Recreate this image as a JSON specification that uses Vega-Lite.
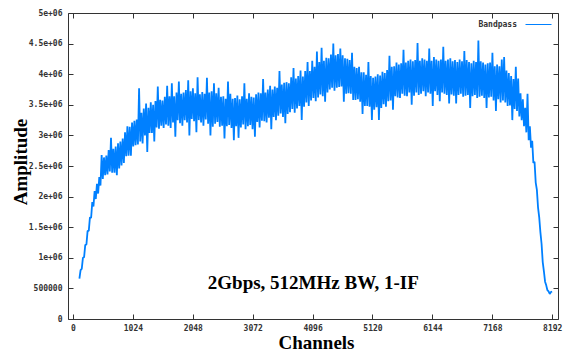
{
"$schema": "https://vega.github.io/schema/vega-lite/v6.json",
"width": 490, "height": 306,
"autosize": {"type": "none"},
"padding": {"left": 68, "top": 13, "right": 6, "bottom": 32},
"background": "white",
"config": {
 "view": {"stroke": "#333", "strokeWidth": 1},
 "axis": {"domain": false, "grid": false, "tickColor": "#333", "tickSize": -5, "tickWidth": 1,
  "labelFont": "DejaVu Sans Mono", "labelFontWeight": "bold", "labelFontSize": 8, "labelColor": "#333",
  "titleFont": "Liberation Serif", "titleFontWeight": "bold", "titleFontSize": 19, "titleColor": "#000"}
},
"resolve": {"axis": {"x": "independent", "y": "independent"}},
"layer": [
 {
  "data": {"values": [
{"ch":110,"amp":0.66},{"ch":130,"amp":0.80},{"ch":150,"amp":0.82},{"ch":170,"amp":1.00},{"ch":190,"amp":1.01},{"ch":210,"amp":1.21},{"ch":230,"amp":1.22},{"ch":250,"amp":1.44},{"ch":270,"amp":1.44},{"ch":290,"amp":1.66},{"ch":310,"amp":1.65},{"ch":330,"amp":1.91},{"ch":350,"amp":1.84},{"ch":370,"amp":2.09},{"ch":390,"amp":1.96},{"ch":410,"amp":2.21},{"ch":430,"amp":2.05},{"ch":450,"amp":2.32},{"ch":470,"amp":2.18},{"ch":490,"amp":2.68},
{"ch":510,"amp":2.29},{"ch":530,"amp":2.64},{"ch":550,"amp":2.35},{"ch":570,"amp":2.67},{"ch":590,"amp":2.36},{"ch":610,"amp":2.76},{"ch":630,"amp":2.41},{"ch":650,"amp":2.96},{"ch":670,"amp":2.39},{"ch":690,"amp":2.78},{"ch":710,"amp":2.39},{"ch":730,"amp":2.82},{"ch":750,"amp":2.35},{"ch":770,"amp":2.87},{"ch":790,"amp":2.46},{"ch":810,"amp":2.90},{"ch":830,"amp":2.51},{"ch":850,"amp":2.95},{"ch":870,"amp":2.55},{"ch":890,"amp":3.05},
{"ch":910,"amp":2.66},{"ch":930,"amp":3.15},{"ch":950,"amp":2.67},{"ch":970,"amp":3.14},{"ch":990,"amp":2.67},{"ch":1010,"amp":3.21},{"ch":1030,"amp":2.82},{"ch":1050,"amp":3.24},{"ch":1070,"amp":2.84},{"ch":1090,"amp":3.26},{"ch":1110,"amp":2.85},{"ch":1130,"amp":3.77},{"ch":1150,"amp":2.90},{"ch":1170,"amp":3.37},{"ch":1190,"amp":2.87},{"ch":1210,"amp":3.44},{"ch":1230,"amp":3.00},{"ch":1250,"amp":3.52},{"ch":1270,"amp":2.73},{"ch":1290,"amp":3.45},
{"ch":1310,"amp":3.04},{"ch":1330,"amp":3.54},{"ch":1350,"amp":3.04},{"ch":1370,"amp":3.50},{"ch":1390,"amp":2.90},{"ch":1410,"amp":3.56},{"ch":1430,"amp":3.13},{"ch":1450,"amp":3.80},{"ch":1470,"amp":3.11},{"ch":1490,"amp":3.58},{"ch":1510,"amp":3.16},{"ch":1530,"amp":3.57},{"ch":1550,"amp":3.12},{"ch":1570,"amp":3.63},{"ch":1590,"amp":3.18},{"ch":1610,"amp":3.81},{"ch":1630,"amp":3.16},{"ch":1650,"amp":3.64},{"ch":1670,"amp":3.12},{"ch":1690,"amp":3.85},
{"ch":1710,"amp":3.21},{"ch":1730,"amp":3.64},{"ch":1750,"amp":2.98},{"ch":1770,"amp":3.70},{"ch":1790,"amp":3.25},{"ch":1810,"amp":3.88},{"ch":1830,"amp":3.20},{"ch":1850,"amp":3.68},{"ch":1870,"amp":3.16},{"ch":1890,"amp":3.70},{"ch":1910,"amp":3.25},{"ch":1930,"amp":3.74},{"ch":1950,"amp":3.21},{"ch":1970,"amp":3.90},{"ch":1990,"amp":3.00},{"ch":2010,"amp":3.72},{"ch":2030,"amp":3.27},{"ch":2050,"amp":3.77},{"ch":2070,"amp":3.23},{"ch":2090,"amp":3.69},
{"ch":2110,"amp":3.05},{"ch":2130,"amp":3.95},{"ch":2150,"amp":3.25},{"ch":2170,"amp":3.67},{"ch":2190,"amp":3.21},{"ch":2210,"amp":3.71},{"ch":2230,"amp":3.16},{"ch":2250,"amp":3.68},{"ch":2270,"amp":3.26},{"ch":2290,"amp":3.94},{"ch":2310,"amp":3.19},{"ch":2330,"amp":3.70},{"ch":2350,"amp":3.00},{"ch":2370,"amp":3.72},{"ch":2390,"amp":3.14},{"ch":2410,"amp":3.85},{"ch":2430,"amp":3.19},{"ch":2450,"amp":3.69},{"ch":2470,"amp":3.22},{"ch":2490,"amp":3.78},
{"ch":2510,"amp":3.14},{"ch":2530,"amp":3.63},{"ch":2550,"amp":3.16},{"ch":2570,"amp":3.64},{"ch":2590,"amp":2.95},{"ch":2610,"amp":3.60},{"ch":2630,"amp":3.15},{"ch":2650,"amp":3.88},{"ch":2670,"amp":3.17},{"ch":2690,"amp":3.68},{"ch":2710,"amp":3.12},{"ch":2730,"amp":3.60},{"ch":2750,"amp":2.92},{"ch":2770,"amp":3.61},{"ch":2790,"amp":3.15},{"ch":2810,"amp":3.65},{"ch":2830,"amp":2.96},{"ch":2850,"amp":3.59},{"ch":2870,"amp":3.13},{"ch":2890,"amp":3.64},
{"ch":2910,"amp":3.18},{"ch":2930,"amp":3.85},{"ch":2950,"amp":3.10},{"ch":2970,"amp":3.60},{"ch":2990,"amp":3.15},{"ch":3010,"amp":3.69},{"ch":3030,"amp":3.17},{"ch":3050,"amp":3.63},{"ch":3070,"amp":3.10},{"ch":3090,"amp":3.62},{"ch":3110,"amp":2.98},{"ch":3130,"amp":3.67},{"ch":3150,"amp":3.22},{"ch":3170,"amp":3.70},{"ch":3190,"amp":3.13},{"ch":3210,"amp":3.69},{"ch":3230,"amp":3.24},{"ch":3250,"amp":3.92},{"ch":3270,"amp":3.23},{"ch":3290,"amp":3.70},
{"ch":3310,"amp":3.21},{"ch":3330,"amp":3.75},{"ch":3350,"amp":3.29},{"ch":3370,"amp":3.81},{"ch":3390,"amp":3.10},{"ch":3410,"amp":3.75},{"ch":3430,"amp":3.30},{"ch":3450,"amp":3.80},{"ch":3470,"amp":3.25},{"ch":3490,"amp":3.78},{"ch":3510,"amp":3.32},{"ch":3530,"amp":4.05},{"ch":3550,"amp":3.36},{"ch":3570,"amp":3.83},{"ch":3590,"amp":3.30},{"ch":3610,"amp":3.86},{"ch":3630,"amp":3.20},{"ch":3650,"amp":3.87},{"ch":3670,"amp":3.35},{"ch":3690,"amp":3.85},
{"ch":3710,"amp":3.38},{"ch":3730,"amp":3.95},{"ch":3750,"amp":3.43},{"ch":3770,"amp":4.10},{"ch":3790,"amp":3.37},{"ch":3810,"amp":3.93},{"ch":3830,"amp":3.44},{"ch":3850,"amp":3.97},{"ch":3870,"amp":3.48},{"ch":3890,"amp":4.06},{"ch":3910,"amp":3.25},{"ch":3930,"amp":3.96},{"ch":3950,"amp":3.47},{"ch":3970,"amp":4.05},{"ch":3990,"amp":3.54},{"ch":4010,"amp":4.20},{"ch":4030,"amp":3.48},{"ch":4050,"amp":4.05},{"ch":4070,"amp":3.57},{"ch":4090,"amp":4.22},
{"ch":4110,"amp":3.61},{"ch":4130,"amp":4.12},{"ch":4150,"amp":3.56},{"ch":4170,"amp":4.37},{"ch":4190,"amp":3.62},{"ch":4210,"amp":4.20},{"ch":4230,"amp":3.67},{"ch":4250,"amp":4.43},{"ch":4270,"amp":3.64},{"ch":4290,"amp":4.22},{"ch":4310,"amp":3.55},{"ch":4330,"amp":4.27},{"ch":4350,"amp":3.70},{"ch":4370,"amp":4.26},{"ch":4390,"amp":3.75},{"ch":4410,"amp":4.32},{"ch":4430,"amp":3.78},{"ch":4450,"amp":4.50},{"ch":4470,"amp":3.73},{"ch":4490,"amp":4.31},
{"ch":4510,"amp":3.78},{"ch":4530,"amp":4.33},{"ch":4550,"amp":3.79},{"ch":4570,"amp":4.42},{"ch":4590,"amp":3.80},{"ch":4610,"amp":4.31},{"ch":4630,"amp":3.55},{"ch":4650,"amp":4.26},{"ch":4670,"amp":3.68},{"ch":4690,"amp":4.25},{"ch":4710,"amp":3.69},{"ch":4730,"amp":4.23},{"ch":4750,"amp":3.68},{"ch":4770,"amp":4.35},{"ch":4790,"amp":3.58},{"ch":4810,"amp":4.12},{"ch":4830,"amp":3.58},{"ch":4850,"amp":4.10},{"ch":4870,"amp":3.59},{"ch":4890,"amp":4.12},
{"ch":4910,"amp":3.55},{"ch":4930,"amp":4.03},{"ch":4950,"amp":3.35},{"ch":4970,"amp":4.03},{"ch":4990,"amp":3.48},{"ch":5010,"amp":3.99},{"ch":5030,"amp":3.48},{"ch":5050,"amp":4.20},{"ch":5070,"amp":3.47},{"ch":5090,"amp":3.97},{"ch":5110,"amp":3.25},{"ch":5130,"amp":3.94},{"ch":5150,"amp":3.42},{"ch":5170,"amp":3.96},{"ch":5190,"amp":3.46},{"ch":5210,"amp":4.00},{"ch":5230,"amp":3.25},{"ch":5250,"amp":3.98},{"ch":5270,"amp":3.45},{"ch":5290,"amp":4.04},
{"ch":5310,"amp":3.51},{"ch":5330,"amp":4.02},{"ch":5350,"amp":3.47},{"ch":5370,"amp":4.07},{"ch":5390,"amp":3.56},{"ch":5410,"amp":4.30},{"ch":5430,"amp":3.57},{"ch":5450,"amp":4.12},{"ch":5470,"amp":3.42},{"ch":5490,"amp":4.13},{"ch":5510,"amp":3.64},{"ch":5530,"amp":4.19},{"ch":5550,"amp":3.62},{"ch":5570,"amp":4.16},{"ch":5590,"amp":3.61},{"ch":5610,"amp":4.18},{"ch":5630,"amp":3.68},{"ch":5650,"amp":4.40},{"ch":5670,"amp":3.65},{"ch":5690,"amp":4.19},
{"ch":5710,"amp":3.64},{"ch":5730,"amp":4.22},{"ch":5750,"amp":3.70},{"ch":5770,"amp":4.24},{"ch":5790,"amp":3.50},{"ch":5810,"amp":4.21},{"ch":5830,"amp":3.65},{"ch":5850,"amp":4.23},{"ch":5870,"amp":3.70},{"ch":5890,"amp":4.51},{"ch":5910,"amp":3.66},{"ch":5930,"amp":4.22},{"ch":5950,"amp":3.68},{"ch":5970,"amp":4.26},{"ch":5990,"amp":3.72},{"ch":6010,"amp":4.24},{"ch":6030,"amp":3.64},{"ch":6050,"amp":4.22},{"ch":6070,"amp":3.70},{"ch":6090,"amp":4.42},
{"ch":6110,"amp":3.68},{"ch":6130,"amp":4.22},{"ch":6150,"amp":3.48},{"ch":6170,"amp":4.28},{"ch":6190,"amp":3.72},{"ch":6210,"amp":4.24},{"ch":6230,"amp":3.66},{"ch":6250,"amp":4.22},{"ch":6270,"amp":3.56},{"ch":6290,"amp":4.24},{"ch":6310,"amp":3.70},{"ch":6330,"amp":4.45},{"ch":6350,"amp":3.68},{"ch":6370,"amp":4.22},{"ch":6390,"amp":3.66},{"ch":6410,"amp":4.24},{"ch":6430,"amp":3.52},{"ch":6450,"amp":4.26},{"ch":6470,"amp":3.67},{"ch":6490,"amp":4.21},
{"ch":6510,"amp":3.65},{"ch":6530,"amp":4.23},{"ch":6550,"amp":3.52},{"ch":6570,"amp":4.20},{"ch":6590,"amp":3.66},{"ch":6610,"amp":4.24},{"ch":6630,"amp":3.68},{"ch":6650,"amp":4.21},{"ch":6670,"amp":3.63},{"ch":6690,"amp":4.38},{"ch":6710,"amp":3.65},{"ch":6730,"amp":4.23},{"ch":6750,"amp":3.66},{"ch":6770,"amp":4.20},{"ch":6790,"amp":3.45},{"ch":6810,"amp":4.18},{"ch":6830,"amp":3.64},{"ch":6850,"amp":4.22},{"ch":6870,"amp":3.66},{"ch":6890,"amp":4.20},
{"ch":6910,"amp":3.61},{"ch":6930,"amp":4.55},{"ch":6950,"amp":3.63},{"ch":6970,"amp":4.21},{"ch":6990,"amp":3.65},{"ch":7010,"amp":4.19},{"ch":7030,"amp":3.61},{"ch":7050,"amp":4.16},{"ch":7070,"amp":3.45},{"ch":7090,"amp":4.18},{"ch":7110,"amp":3.62},{"ch":7130,"amp":4.19},{"ch":7150,"amp":3.63},{"ch":7170,"amp":4.35},{"ch":7190,"amp":3.57},{"ch":7210,"amp":4.13},{"ch":7230,"amp":3.40},{"ch":7250,"amp":4.16},{"ch":7270,"amp":3.59},{"ch":7290,"amp":4.13},
{"ch":7310,"amp":3.54},{"ch":7330,"amp":4.24},{"ch":7350,"amp":3.57},{"ch":7370,"amp":4.28},{"ch":7390,"amp":3.54},{"ch":7410,"amp":4.06},{"ch":7430,"amp":3.48},{"ch":7450,"amp":4.02},{"ch":7470,"amp":3.49},{"ch":7490,"amp":3.97},{"ch":7510,"amp":3.25},{"ch":7530,"amp":3.92},{"ch":7550,"amp":3.43},{"ch":7570,"amp":4.12},{"ch":7590,"amp":3.40},{"ch":7610,"amp":3.93},{"ch":7630,"amp":3.31},{"ch":7650,"amp":3.69},{"ch":7670,"amp":3.25},{"ch":7690,"amp":3.59},
{"ch":7710,"amp":3.15},{"ch":7730,"amp":3.45},{"ch":7750,"amp":3.05},{"ch":7770,"amp":3.68},{"ch":7790,"amp":2.92},{"ch":7810,"amp":3.15},{"ch":7830,"amp":2.80},{"ch":7850,"amp":2.91},{"ch":7870,"amp":2.55},{"ch":7890,"amp":2.57},{"ch":7910,"amp":2.23},{"ch":7930,"amp":2.11},{"ch":7950,"amp":1.82},{"ch":7970,"amp":1.66},{"ch":7990,"amp":1.42},{"ch":8010,"amp":1.23},{"ch":8030,"amp":0.93},{"ch":8050,"amp":0.78},{"ch":8070,"amp":0.61},{"ch":8090,"amp":0.55},
{"ch":8110,"amp":0.47},{"ch":8130,"amp":0.45},{"ch":8150,"amp":0.41},{"ch":8170,"amp":0.44},{"ch":8190,"amp":0.45}
  ]},
  "mark": {"type": "line", "strokeWidth": 1.8, "strokeJoin": "bevel", "clip": true},
  "encoding": {
   "x": {"field": "ch", "type": "quantitative",
    "scale": {"domain": [-85, 8291], "nice": false, "zero": false},
    "axis": {"orient": "bottom", "values": [0,1024,2048,3072,4096,5120,6144,7168,8192], "format": "d", "labelPadding": 10,
     "title": "Channels", "titleX": 248, "titleY": 29, "titleBaseline": "alphabetic", "titleAlign": "center"}},
   "y": {"field": "amp", "type": "quantitative",
    "scale": {"domain": [0, 5], "nice": false, "zero": true},
    "axis": {"orient": "left", "values": [0,0.5,1,1.5,2,2.5,3,3.5,4,4.5,5], "labelPadding": 11,
     "labelExpr": "datum.value == 0 ? '0' : datum.value == 0.5 ? '500000' : datum.value + 'e+06'",
     "title": "Amplitude", "titleX": -41.5, "titleY": 148.5, "titleBaseline": "alphabetic", "titleAlign": "center", "titleAngle": -90}},
   "color": {"datum": "Bandpass", "scale": {"range": ["#0080ff"]},
    "legend": {"title": null, "orient": "none", "legendX": 457, "legendY": -2, "padding": 0,
     "symbolType": "stroke", "symbolSize": 676, "symbolStrokeWidth": 1,
     "labelAlign": "right", "labelOffset": -35,
     "labelFont": "DejaVu Sans Mono", "labelFontWeight": "bold", "labelFontSize": 8, "labelColor": "#333"}}
  }
 },
 {
  "data": {"values": [{"ch": 4108, "amp": 0.49, "label": "2Gbps, 512MHz BW, 1-IF"}]},
  "mark": {"type": "text", "font": "Liberation Serif", "fontSize": 19, "fontWeight": "bold", "align": "center", "baseline": "alphabetic", "color": "#000"},
  "encoding": {
   "x": {"field": "ch", "type": "quantitative", "axis": null},
   "y": {"field": "amp", "type": "quantitative", "axis": null},
   "text": {"field": "label"}
  }
 },
 {
  "data": {"values": [{"ch": 0, "amp": 0}]},
  "mark": {"type": "point", "opacity": 0},
  "encoding": {
   "x": {"field": "ch", "type": "quantitative",
    "axis": {"orient": "top", "values": [0,1024,2048,3072,4096,5120,6144,7168,8192], "labels": false, "title": null}},
   "y": {"field": "amp", "type": "quantitative",
    "axis": {"orient": "right", "values": [0,0.5,1,1.5,2,2.5,3,3.5,4,4.5,5], "labels": false, "title": null}}
  }
 }
]
}
